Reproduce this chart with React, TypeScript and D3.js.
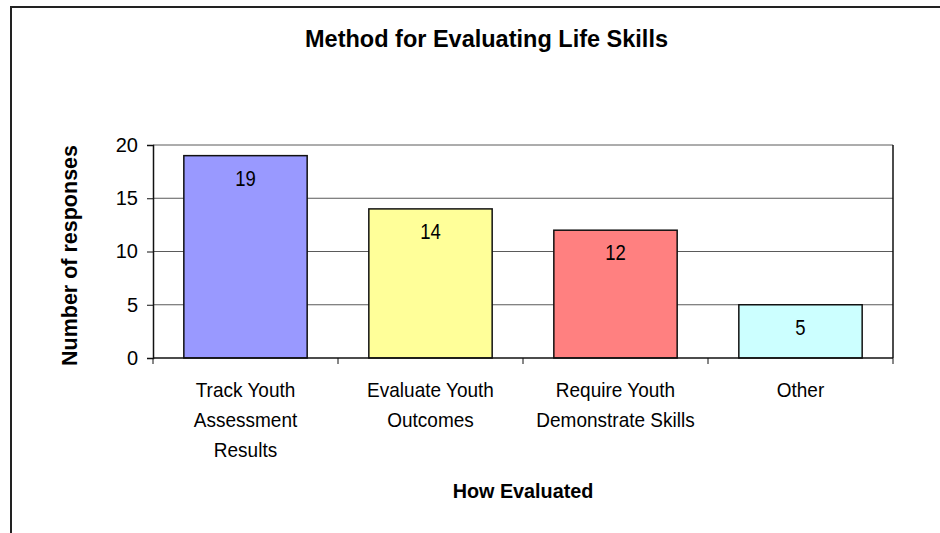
import React, { useEffect, useRef } from "react";
import * as d3 from "d3";

const categories: string[][] = [
  ["Track Youth", "Assessment", "Results"],
  ["Evaluate Youth", "Outcomes"],
  ["Require Youth", "Demonstrate Skills"],
  ["Other"],
];
const responses: number[] = [19, 14, 12, 5];
const barColors: string[] = ["#9999FF", "#FFFF99", "#FF8080", "#CCFFFF"];
const yTicks: number[] = [0, 5, 10, 15, 20];

const title = "Method for Evaluating Life Skills";
const xTitle = "How Evaluated";
const yTitle = "Number of responses";

const FONT = "'Liberation Sans', Arial, Helvetica, sans-serif";

export default function App() {
  const svgRef = useRef<SVGSVGElement>(null);

  useEffect(() => {
    if (!svgRef.current) return;
    const svg = d3.select(svgRef.current);
    svg.selectAll("*").remove();

    const width = 940;
    const height = 533;
    const plot = { left: 153, right: 893, top: 145, bottom: 358 };

    // chart area border (runs off the page right and bottom)
    svg
      .append("rect")
      .attr("x", 11)
      .attr("y", 7)
      .attr("width", width + 20)
      .attr("height", height + 20)
      .attr("fill", "#fff")
      .attr("stroke", "#222")
      .attr("stroke-width", 2);

    const keys = categories.map((_c, i) => String(i));
    const x = d3
      .scaleBand()
      .domain(keys)
      .range([plot.left, plot.right])
      .paddingInner(1 / 3)
      .paddingOuter(1 / 6);
    const xOuter = d3.scaleBand().domain(keys).range([plot.left, plot.right]);

    const y = d3.scaleLinear().domain([0, 20]).range([plot.bottom, plot.top]);

    // gridlines
    svg
      .append("g")
      .selectAll("line")
      .data(yTicks.filter((t) => t > 0))
      .join("line")
      .attr("x1", plot.left)
      .attr("x2", plot.right)
      .attr("y1", (d) => y(d))
      .attr("y2", (d) => y(d))
      .attr("stroke", "#5a5a5a")
      .attr("stroke-width", 1);

    // plot area right edge
    svg
      .append("line")
      .attr("x1", plot.right)
      .attr("x2", plot.right)
      .attr("y1", plot.top)
      .attr("y2", plot.bottom)
      .attr("stroke", "#111")
      .attr("stroke-width", 1.5);

    // bars
    svg
      .append("g")
      .selectAll("rect")
      .data(responses)
      .join("rect")
      .attr("x", (_d, i) => x(String(i)) || 0)
      .attr("y", (d) => y(d))
      .attr("width", x.bandwidth())
      .attr("height", (d) => plot.bottom - y(d))
      .attr("fill", (_d, i) => barColors[i])
      .attr("stroke", "#111")
      .attr("stroke-width", 1.5);

    // value labels (slightly tall glyphs, as in the original)
    svg
      .append("g")
      .selectAll("text")
      .data(responses)
      .join("text")
      .attr(
        "transform",
        (d, i) =>
          `translate(${(x(String(i)) || 0) + x.bandwidth() / 2},${y(d) + 30}) scale(1,1.18)`
      )
      .attr("text-anchor", "middle")
      .attr("font-family", FONT)
      .attr("font-size", 18.5)
      .attr("fill", "#000")
      .text((d) => d);

    // y axis
    const yAxis = d3
      .axisLeft(y)
      .tickValues(yTicks)
      .tickSize(6)
      .tickPadding(9)
      .tickFormat((d) => String(d));
    const yg = svg
      .append("g")
      .attr("transform", `translate(${plot.left},0)`)
      .call(yAxis);
    yg.select(".domain").attr("stroke", "#111").attr("stroke-width", 1.5);
    yg.selectAll(".tick line").attr("stroke", "#111");
    yg.selectAll(".tick text")
      .attr("font-family", FONT)
      .attr("font-size", 20)
      .attr("fill", "#000");

    // x axis line and category ticks
    svg
      .append("line")
      .attr("x1", plot.left)
      .attr("x2", plot.right)
      .attr("y1", plot.bottom)
      .attr("y2", plot.bottom)
      .attr("stroke", "#111")
      .attr("stroke-width", 1.5);
    const edges = keys.map((k) => xOuter(k) || 0).concat([plot.right]);
    svg
      .append("g")
      .selectAll("line")
      .data(edges)
      .join("line")
      .attr("x1", (d) => d)
      .attr("x2", (d) => d)
      .attr("y1", plot.bottom)
      .attr("y2", plot.bottom + 6)
      .attr("stroke", "#111")
      .attr("stroke-width", 1);

    // category labels
    const stretch = 1.1;
    const labels = svg
      .append("g")
      .selectAll("text")
      .data(categories)
      .join("text")
      .attr(
        "transform",
        (_c, i) =>
          `translate(${(xOuter(String(i)) || 0) + xOuter.bandwidth() / 2},397) scale(1,${stretch})`
      )
      .attr("text-anchor", "middle")
      .attr("font-family", FONT)
      .attr("font-size", 19)
      .attr("fill", "#000");
    labels.each(function (lines) {
      d3.select(this)
        .selectAll("tspan")
        .data(lines)
        .join("tspan")
        .attr("x", 0)
        .attr("y", (_l, j) => (j * 30) / stretch)
        .text((l) => l);
    });

    // titles
    svg
      .append("text")
      .attr("x", 486.5)
      .attr("y", 47)
      .attr("text-anchor", "middle")
      .attr("font-family", FONT)
      .attr("font-weight", "bold")
      .attr("font-size", 23.5)
      .text(title);

    svg
      .append("text")
      .attr("x", (plot.left + plot.right) / 2)
      .attr("y", 498)
      .attr("text-anchor", "middle")
      .attr("font-family", FONT)
      .attr("font-weight", "bold")
      .attr("font-size", 19.8)
      .text(xTitle);

    svg
      .append("text")
      .attr("transform", `translate(77,${(143 + 368) / 2}) rotate(-90)`)
      .attr("text-anchor", "middle")
      .attr("font-family", FONT)
      .attr("font-weight", "bold")
      .attr("font-size", 21.5)
      .text(yTitle);
  }, []);

  return (
    <svg
      ref={svgRef}
      width={940}
      height={533}
      viewBox="0 0 940 533"
      style={{ position: "absolute", left: 0, top: 0, display: "block", background: "#fff" }}
    />
  );
}
